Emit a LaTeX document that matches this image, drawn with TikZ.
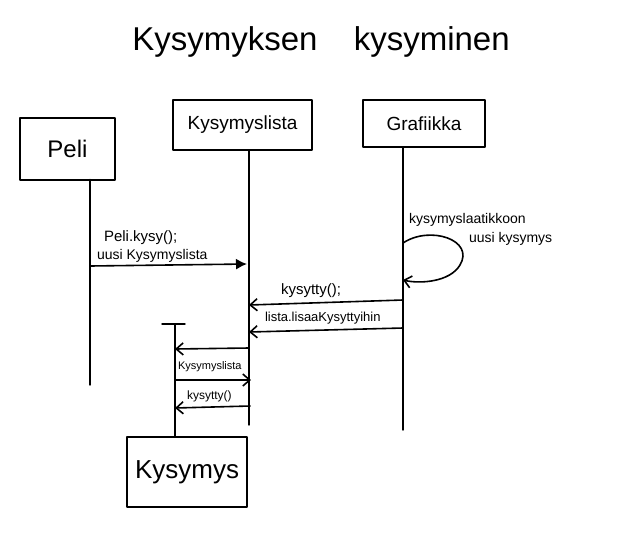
\documentclass[tikz,border=0pt]{standalone}
\usepackage{fontspec}
\setmainfont{Liberation Sans}
\usetikzlibrary{arrows.meta}
\begin{document}
\begin{tikzpicture}[x=1pt,y=-1pt,
  line width=2pt, line cap=round, line join=round,
  objbox/.style={draw, rectangle, minimum width=#1, inner sep=0pt},
  lifeline/.style={draw, line width=1.4pt},
  msgopen/.style={draw, line width=1.6pt, -{Straight Barb[length=7pt,width=12pt,line width=1.6pt]}},
  msgfill/.style={draw, line width=1.6pt, -{Latex[length=11pt,width=11pt]}},
  lbl/.style={inner sep=0pt, font=\fontsize{14}{16}\selectfont},
  ttl/.style={inner sep=0pt, font=\fontsize{33}{36}\selectfont}]
\useasboundingbox (0,0) rectangle (640,542);
\fill[white] (0,0) rectangle (640,542);

% title
\node[ttl] (title) at (321,42) {Kysymyksen\hspace{1.1em}kysyminen};

% objects
\node[objbox=95pt, minimum height=62pt, font=\fontsize{24}{26}\selectfont] (peli) at (67.5,148.5) {Peli};
\node[objbox=139pt, minimum height=50pt, font=\fontsize{19}{22}\selectfont] (lista) at (242.5,125) {Kysymyslista};
\node[objbox=122pt, minimum height=47pt, font=\fontsize{19}{22}\selectfont] (graf) at (424,123.5) {Grafiikka};
\node[objbox=120pt, minimum height=70pt, font=\fontsize{26}{28}\selectfont] (kys) at (187,472) {Kysymys};

% lifeline coordinates
\coordinate (peliTop) at (90,179.5);
\coordinate (peliEnd) at (90,385);
\coordinate (listaTop) at (249,150);
\coordinate (listaEnd) at (249,425);
\coordinate (grafTop) at (403,147);
\coordinate (grafEnd) at (403,430);
\coordinate (kysTop) at (175,324);
\coordinate (kysBot) at (175,437);
\coordinate (barL) at (162,324);
\coordinate (barR) at (185,324);

\draw[lifeline] (peliTop) -- (peliEnd);
\draw[lifeline] (listaTop) -- (listaEnd);
\draw[lifeline] (grafTop) -- (grafEnd);
\draw[lifeline] (kysTop) -- (kysBot);
\draw[lifeline] (barL) -- (barR);

% message 1
\coordinate (m1a) at (90,266);
\coordinate (m1b) at (247,264);
\draw[msgfill] (m1a) -- (m1b);
\node[lbl, anchor=west, font=\fontsize{15}{17}\selectfont] (l1a) at (103,238) {Peli.kysy();};
\node[lbl, anchor=west] (l1b) at (96,256) {uusi Kysymyslista};

% self loop on Grafiikka
\coordinate (loopA) at (403,243);
\coordinate (loopB) at (403,280);
\draw[msgopen] (loopA) .. controls (430,225) and (475,240) .. (460,265)
  .. controls (450,282) and (420,284) .. (loopB);
\node[lbl, anchor=west] (l2a) at (408,220) {kysymyslaatikkoon};
\node[lbl, anchor=west] (l2b) at (468,239) {uusi kysymys};

% kysytty
\coordinate (m3a) at (403,300);
\coordinate (m3b) at (249,305);
\draw[msgopen] (m3a) -- (m3b);
\node[lbl, anchor=west, font=\fontsize{15}{17}\selectfont] (l3) at (280,291) {kysytty();};

% lista.lisaaKysyttyihin
\coordinate (m4a) at (403,328);
\coordinate (m4b) at (249,332);
\draw[msgopen] (m4a) -- (m4b);
\node[lbl, anchor=west, font=\fontsize{13}{15}\selectfont] (l4) at (264,318) {lista.lisaaKysyttyihin};

% Kysymys interactions
\coordinate (m5a) at (249,348);
\coordinate (m5b) at (175,349);
\draw[msgopen] (m5a) -- (m5b);
\coordinate (m6a) at (175,380);
\coordinate (m6b) at (251,380);
\draw[msgopen] (m6a) -- (m6b);
\node[lbl, anchor=west, font=\fontsize{11}{13}\selectfont] (l6) at (177,367) {Kysymyslista};
\coordinate (m7a) at (250,406);
\coordinate (m7b) at (175,408);
\draw[msgopen] (m7a) -- (m7b);
\node[lbl, anchor=west, font=\fontsize{12}{14}\selectfont] (l7) at (186,396) {kysytty()};
\end{tikzpicture}
\end{document}
